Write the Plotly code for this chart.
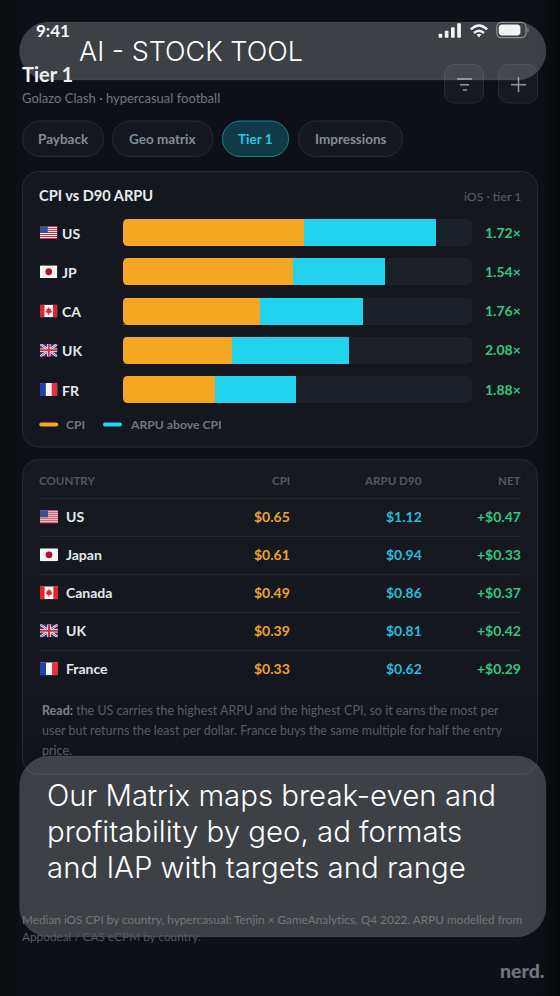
import base64
import plotly.graph_objects as go

# ---- data ----
codes = ["US", "JP", "CA", "UK", "FR"]
countries = ["US", "Japan", "Canada", "UK", "France"]
cpi = [0.65, 0.61, 0.49, 0.39, 0.33]
arpu = [1.12, 0.94, 0.86, 0.81, 0.62]
net = [0.47, 0.33, 0.37, 0.42, 0.29]
multiple = [1.72, 1.54, 1.76, 2.08, 1.88]
tabs = ["Payback", "Geo matrix", "Tier 1", "Impressions"]
table_headers = ["COUNTRY", "CPI", "ARPU D90", "NET"]
axis_max = 1.25

W, H = 560, 996
ORANGE, CYAN, TRACK = "#f5a623", "#22d3ee", "#1c2129"
CARD = "#14181e"
BODY = "Lato"
DISPLAY = "Inter"
SEMI = 700


def X(x):
    return x / W


def Y(y):
    return 1 - y / H


def uri(svg):
    return "data:image/svg+xml;base64," + base64.b64encode(svg.encode()).decode()


def rr(x0, y0, x1, y1, r):
    k = 0.55 * r
    pts = [
        f"M{X(x0 + r)},{Y(y0)}", f"L{X(x1 - r)},{Y(y0)}",
        f"C{X(x1 - r + k)},{Y(y0)} {X(x1)},{Y(y0 + r - k)} {X(x1)},{Y(y0 + r)}",
        f"L{X(x1)},{Y(y1 - r)}",
        f"C{X(x1)},{Y(y1 - r + k)} {X(x1 - r + k)},{Y(y1)} {X(x1 - r)},{Y(y1)}",
        f"L{X(x0 + r)},{Y(y1)}",
        f"C{X(x0 + r - k)},{Y(y1)} {X(x0)},{Y(y1 - r + k)} {X(x0)},{Y(y1 - r)}",
        f"L{X(x0)},{Y(y0 + r)}",
        f"C{X(x0)},{Y(y0 + r - k)} {X(x0 + r - k)},{Y(y0)} {X(x0 + r)},{Y(y0)} Z",
    ]
    return " ".join(pts)


shapes, anns, images = [], [], []


def box(x0, y0, x1, y1, r, fill, line="rgba(0,0,0,0)", lw=1, layer="below"):
    shapes.append(dict(type="path", path=rr(x0, y0, x1, y1, r), fillcolor=fill,
                       line=dict(color=line, width=lw), xref="paper", yref="paper", layer=layer))


def seg(x0, y0, x1, y1, color, lw=1, layer="below"):
    shapes.append(dict(type="line", x0=X(x0), x1=X(x1), y0=Y(y0), y1=Y(y1), xref="paper", yref="paper",
                       line=dict(color=color, width=lw), layer=layer))


def raw(path, fill="rgba(0,0,0,0)", line="rgba(0,0,0,0)", lw=0, layer="above"):
    shapes.append(dict(type="path", path=path, fillcolor=fill, line=dict(color=line, width=lw),
                       xref="paper", yref="paper", layer=layer))


def txt(x, y, s, size, color, anchor="left", weight=400, family=BODY):
    anns.append(dict(x=X(x), y=Y(y), xref="paper", yref="paper", text=s, showarrow=False,
                     xanchor=anchor, yanchor="middle", align=anchor,
                     font=dict(size=size, color=color, family=family, weight=weight),
                     borderpad=0, borderwidth=0))


# ---- page + card backdrop ----
backdrop = f'''<svg xmlns="http://www.w3.org/2000/svg" width="{W}" height="{H}" viewBox="0 0 {W} {H}">
<defs>
<linearGradient id="p" x1="0" x2="1" y1="0" y2="0">
<stop offset="0" stop-color="#0a0c10"/><stop offset="0.05" stop-color="#0d1117"/>
<stop offset="0.95" stop-color="#0d1117"/><stop offset="1" stop-color="#08090d"/>
</linearGradient>
<linearGradient id="c" x1="0" x2="0" y1="0" y2="1">
<stop offset="0" stop-color="#161a20"/><stop offset="0.7" stop-color="#14181e"/><stop offset="1" stop-color="#0f1319"/>
</linearGradient>
</defs>
<rect width="{W}" height="{H}" fill="url(#p)"/>
<rect x="22.5" y="171.5" width="515" height="275.5" rx="16" fill="{CARD}" stroke="#252a33"/>
<rect x="22.5" y="459.5" width="515" height="315" rx="16" fill="url(#c)" stroke="#22272f"/>
</svg>'''
images.append(dict(source=uri(backdrop), xref="paper", yref="paper", x=0, y=1, sizex=1, sizey=1,
                   sizing="stretch", xanchor="left", yanchor="top", layer="below"))

# ---- flags ----
us_stripes = "".join(f'<rect y="{i}" width="18" height="1" fill="#c8304a"/>' for i in range(0, 13, 2))
flag_svg = {
    "US": f'<rect width="18" height="13" fill="#f2f2f2"/>{us_stripes}<rect width="8" height="7" fill="#3d4f8f"/>',
    "JP": '<rect width="18" height="13" fill="#f6f6f6"/><circle cx="9" cy="6.5" r="3.4" fill="#bc0b33"/>',
    "CA": '<rect width="18" height="13" fill="#f6f6f6"/><rect width="4.6" height="13" fill="#e0232e"/>'
          '<rect x="13.4" width="4.6" height="13" fill="#e0232e"/>'
          '<path d="M9 2.4 10 4.4 11.4 3.9 10.9 6.3 12.3 6.2 12 7.5 9.4 9.3 9.4 10.6 8.6 10.6 8.6 9.3 6 7.5 5.7 6.2 7.1 6.3 6.6 3.9 8 4.4Z" fill="#e0232e"/>',
    "UK": '<rect width="18" height="13" fill="#2b3a78"/>'
          '<path d="M0 0 18 13M18 0 0 13" stroke="#f2f2f2" stroke-width="2.4"/>'
          '<path d="M0 0 18 13M18 0 0 13" stroke="#c8304a" stroke-width="0.9"/>'
          '<path d="M9 0V13M0 6.5H18" stroke="#f2f2f2" stroke-width="3.6"/>'
          '<path d="M9 0V13M0 6.5H18" stroke="#c8304a" stroke-width="2"/>',
    "FR": '<rect width="18" height="13" fill="#f6f6f6"/><rect width="6" height="13" fill="#1f3fa8"/>'
          '<rect x="12" width="6" height="13" fill="#e8313f"/>',
}


def flag(code, x0, yc, w, h):
    s = f'<svg xmlns="http://www.w3.org/2000/svg" viewBox="0 0 18 13" preserveAspectRatio="none">' \
        f'<clipPath id="r"><rect width="18" height="13" rx="1"/></clipPath><g clip-path="url(#r)">{flag_svg[code]}</g></svg>'
    images.append(dict(source=uri(s), xref="paper", yref="paper", x=X(x0), y=Y(yc - h / 2), sizex=w / W, sizey=h / H,
                       sizing="stretch", xanchor="left", yanchor="top", layer="below"))


# ---- header ----
txt(22, 73.5, "Tier 1", 20, "#eef0f2", weight=700)
txt(22, 98, "Golazo Clash · hypercasual football", 13, "#6e7681")
box(444.5, 64.5, 483.5, 103, 10, "#161a20", "#262b33")
box(498.5, 64.5, 537.5, 103, 10, "#161a20", "#262b33")
seg(457, 79, 472, 79, "#8b9097", 1.6)
seg(460, 84.8, 469, 84.8, "#8b9097", 1.6)
seg(463, 90, 467, 90, "#8b9097", 1.6)
seg(511, 84.7, 526, 84.7, "#8b9097", 1.6)
seg(518.5, 77.2, 518.5, 92.2, "#8b9097", 1.6)

# ---- tabs ----
tab_x = [(22.5, 103.5), (112.5, 213), (222.5, 288.5), (298.5, 402.5)]
for name, (a, b) in zip(tabs, tab_x):
    on = name == "Tier 1"
    box(a, 121, b, 156.5, 17.5, "#0f3a46" if on else "#14181e", "#1d7f90" if on else "#262b33", 1)
    txt((a + b) / 2, 138.6, name, 13.5, "#2cc5e4" if on else "#848c97", "center", SEMI)

# ---- card 1 ----
txt(39, 195, "CPI vs D90 ARPU", 14.6, "#e8ecf0", weight=SEMI)
txt(521, 196, "iOS · tier 1", 12.3, "#5a5f68", "right")

top, pitch = 212.9, 39.25
left, r = 123.0, 5.0
bar_h = 27
for i, code in enumerate(codes):
    yc = top + pitch * (i + 0.5)
    flag(code, 40, yc, 17.5, 13)
    txt(62, yc + 0.5, code, 14, "#e6eaee", weight=SEMI)
    txt(521, yc - 0.5, f"{multiple[i]:.2f}×", 14, "#37c47f", "right", SEMI)
    yt, yb = yc - bar_h / 2, yc + bar_h / 2
    raw(f"M{X(left)},{Y(yt)} L{X(left + r)},{Y(yt)} Q{X(left)},{Y(yt)} {X(left)},{Y(yt + r)} Z", fill=CARD)
    raw(f"M{X(left)},{Y(yb)} L{X(left + r)},{Y(yb)} Q{X(left)},{Y(yb)} {X(left)},{Y(yb - r)} Z", fill=CARD)

# legend keys
box(39.3, 422.4, 58.3, 426.4, 2, ORANGE)
txt(66, 424.5, "CPI", 12.2, "#6e7681", weight=SEMI)
box(103, 422.4, 122, 426.4, 2, CYAN)
txt(130, 424.5, "ARPU above CPI", 12.2, "#6e7681", weight=SEMI)

# ---- table card ----
head_x = [39, 290, 422, 521]
for i, h in enumerate(table_headers):
    txt(head_x[i], 480.5, h, 11.6, "#505761", "left" if i == 0 else "right", SEMI)
for i in range(5):
    seg(39, 498.5 + 38 * i, 521, 498.5 + 38 * i, "#232830")
    yc = 516.8 + 38 * i
    flag(codes[i], 40, yc, 18, 13)
    txt(66, yc, countries[i], 14, "#e6eaee", weight=SEMI)
    txt(290, yc, f"${cpi[i]:.2f}", 14, "#efa32f", "right", SEMI)
    txt(422, yc, f"${arpu[i]:.2f}", 14, "#28bcdc", "right", SEMI)
    txt(521, yc, f"+${net[i]:.2f}", 14, "#37c47f", "right", SEMI)

NOTE = 12.5
txt(42, 710, '<b><span style="color:#7c828a">Read:</span></b> the US carries the highest ARPU and the highest CPI, so it earns the most per', NOTE, "#565c66")
txt(42, 730.3, "user but returns the least per dollar. France buys the same multiple for half the entry", NOTE, "#565c66")
txt(42, 750.6, "price.", NOTE, "#565c66")

txt(22, 919, "Median iOS CPI by country, hypercasual: Tenjin × GameAnalytics, Q4 2022. ARPU modelled from", 11.8, "#74777c")
txt(22, 936.7, "Appodeal / CAS eCPM by country.", 11.8, "#55585e")
txt(544, 970, "nerd.", 19.5, "#72767c", "right", 900)

# ---- overlay pills ----
box(19.6, 22, 546, 80, 29, "rgba(255,255,255,0.2)", "rgba(255,255,255,0.06)", 1, "above")
box(19.6, 756, 546, 937, 30, "rgba(255,255,255,0.2)", "rgba(255,255,255,0.06)", 1, "above")
txt(79, 52, "AI - STOCK TOOL", 27, "#ffffff", weight=300, family=DISPLAY)
overlay_lines = ["Our Matrix maps break-even and", "profitability by geo, ad formats", "and IAP with targets and range"]
for i, s in enumerate(overlay_lines):
    txt(47, 795 + 36 * i, s, 29.4, "#ffffff", weight=300, family=DISPLAY)

# ---- status bar ----
txt(36, 31, "9:41", 17, "#f4f5f6", weight=SEMI)
for x0, h in zip([438.6, 444.8, 451, 457.2], [4, 7, 10.5, 14.4]):
    box(x0, 37.7 - h, x0 + 3.7, 37.7, 1, "#f2f3f4", layer="above")
raw(f"M{X(470.8)},{Y(29.4)} Q{X(479)},{Y(21.6)} {X(487.2)},{Y(29.4)}", line="#f2f3f4", lw=2.4)
raw(f"M{X(474)},{Y(33)} Q{X(479)},{Y(28.4)} {X(484)},{Y(33)}", line="#f2f3f4", lw=2.4)
raw(f"M{X(476.6)},{Y(34.6)} Q{X(479)},{Y(33)} {X(481.4)},{Y(34.6)} L{X(479)},{Y(37.4)} Z", fill="#f2f3f4")
box(496.8, 22.4, 526, 37.6, 4.5, "rgba(0,0,0,0)", "#8d9094", 1.2, "above")
box(498.8, 24.4, 520.4, 35.6, 3, "#f2f3f4", layer="above")
box(527.2, 27.4, 528.6, 32.4, 0.7, "#77797d", layer="above")

# ---- bars ----
above = [round(a - c, 2) for a, c in zip(arpu, cpi)]
rest = [round(axis_max - a, 2) for a in arpu]
fig = go.Figure()
fig.add_bar(y=codes, x=cpi, orientation="h", marker=dict(color=ORANGE, line_width=0), name="CPI", hoverinfo="skip")
fig.add_bar(y=codes, x=above, orientation="h", marker=dict(color=CYAN, line_width=0), name="ARPU above CPI", hoverinfo="skip")
fig.add_bar(y=codes, x=rest, orientation="h", marker=dict(color=TRACK, line_width=0, cornerradius=5), name="track",
            hoverinfo="skip")

fig.update_layout(
    width=W, height=H, margin=dict(l=0, r=0, t=0, b=0), autosize=False,
    paper_bgcolor="#0d1117", plot_bgcolor="rgba(0,0,0,0)",
    barmode="stack", bargap=1 - bar_h / pitch, showlegend=False,
    xaxis=dict(domain=[X(123), X(472)], range=[0, axis_max], visible=False, fixedrange=True),
    yaxis=dict(domain=[Y(top + 5 * pitch), Y(top)], autorange="reversed", visible=False, fixedrange=True,
               categoryorder="array", categoryarray=codes),
    shapes=shapes, annotations=anns, images=images,
    font=dict(family=BODY),
)
fig.write_html("out.html", config=dict(displayModeBar=False),
               post_script="document.body.style.margin='0';document.documentElement.style.overflow='hidden';")
